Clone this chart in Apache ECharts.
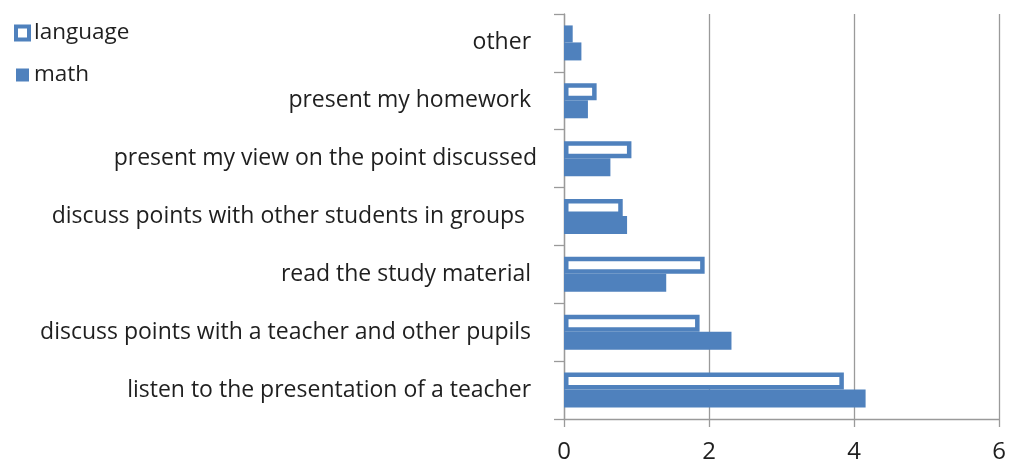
<!DOCTYPE html>
<html>
<head>
<meta charset="utf-8">
<script src="https://cdn.jsdelivr.net/npm/echarts@6/dist/echarts.min.js"></script>
<style>html,body{margin:0;padding:0;background:#fff}#c{width:1009px;height:463px}</style>
</head>
<body>
<div id="c"></div>
<script>
const categories = [
  "listen to the presentation of a teacher ",
  "discuss points with a teacher and other pupils ",
  "read the study material ",
  "discuss points with other students in groups  ",
  "present my view on the point discussed",
  "present my homework ",
  "other "
];
const languageValues = [3.86, 1.87, 1.94, 0.81, 0.93, 0.45, 0.12];
const mathValues = [4.16, 2.31, 1.41, 0.87, 0.64, 0.33, 0.24];
const xTicks = { min: 0, max: 6, interval: 2 };

const BLUE = '#4F81BD';
const GRAY = '#9a9a9a';
const FONT = 'Open Sans';
const chart = echarts.init(document.getElementById('c'), null, { renderer: 'canvas' });
chart.setOption({
  animation: false,
  backgroundColor: '#fff',
  legend: {
    left: 14, top: 21, orient: 'vertical', padding: 0,
    itemWidth: 13, itemHeight: 13, itemGap: 18,
    textStyle: { fontFamily: FONT, fontSize: 22.5, color: '#1f1f1f', lineHeight: 24 },
    data: [
      { name: 'language', icon: 'rect', itemStyle: { color: '#fff', borderColor: BLUE, borderWidth: 4 } },
      { name: 'math', icon: 'rect', itemStyle: { color: BLUE, borderWidth: 0 } }
    ]
  },
  grid: { left: 564, right: 10, top: 14, bottom: 44, containLabel: false, outerBoundsMode: 'none' },
  xAxis: {
    type: 'value', min: xTicks.min, max: xTicks.max, interval: xTicks.interval,
    axisLine: { show: true, lineStyle: { color: GRAY, width: 1.3 } },
    axisTick: { show: true, length: 8, lineStyle: { color: GRAY, width: 1.3 } },
    splitLine: { show: true, lineStyle: { color: GRAY, width: 1.3 } },
    axisLabel: { fontFamily: FONT, fontSize: 24, color: '#1f1f1f', margin: 21 }
  },
  yAxis: {
    type: 'category', data: categories,
    axisLine: { show: true, lineStyle: { color: GRAY, width: 1.3 } },
    axisTick: { show: true, length: 10, lineStyle: { color: GRAY, width: 1.3 } },
    axisLabel: { fontFamily: FONT, fontSize: 23, color: '#1f1f1f', margin: 27, padding: [4, 0, 0, 0] }
  },
  series: [
    {
      name: 'language', type: 'bar', data: languageValues,
      barWidth: 17, barGap: '0%',
      itemStyle: { color: '#fff', borderColor: BLUE, borderWidth: 4.5 }
    },
    {
      name: 'math', type: 'bar', data: mathValues,
      barWidth: 18, barGap: '0%',
      itemStyle: { color: BLUE }
    }
  ]
});
</script>
</body>
</html>
